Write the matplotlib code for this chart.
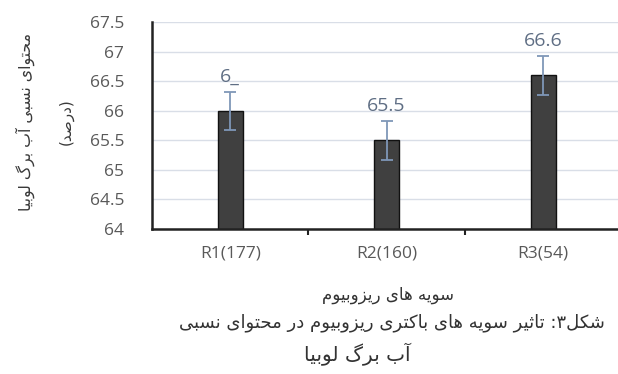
import matplotlib
matplotlib.use("Agg")
import matplotlib.pyplot as plt
import numpy as np

categories = ['R1(177)', 'R2(160)', 'R3(54)']
values = [66.0, 65.5, 66.6]
errors = [0.32, 0.33, 0.33]
value_labels = ['6_', '65.5', '66.6']
yticks = [64, 64.5, 65, 65.5, 66, 66.5, 67, 67.5]
ylabel_line1 = 'محتوای نسبی آب برگ لوبیا'
ylabel_line2 = '(درصد)'
xlabel_text = 'سویه های ریزوبیوم'
caption_line1 = 'شکل۳: تاثیر سویه های باکتری ریزوبیوم در محتوای نسبی'
caption_line2 = 'آب برگ لوبیا'

FORMS = {
    '\u0627': ('\uFE8D', '\uFE8E', None, None),
    '\u0622': ('\uFE81', '\uFE82', None, None),
    '\u0628': ('\uFE8F', '\uFE90', '\uFE91', '\uFE92'),
    '\u062A': ('\uFE95', '\uFE96', '\uFE97', '\uFE98'),
    '\u062B': ('\uFE99', '\uFE9A', '\uFE9B', '\uFE9C'),
    '\u062D': ('\uFEA1', '\uFEA2', '\uFEA3', '\uFEA4'),
    '\u062F': ('\uFEA9', '\uFEAA', None, None),
    '\u0631': ('\uFEAD', '\uFEAE', None, None),
    '\u0632': ('\uFEAF', '\uFEB0', None, None),
    '\u0633': ('\uFEB1', '\uFEB2', '\uFEB3', '\uFEB4'),
    '\u0634': ('\uFEB5', '\uFEB6', '\uFEB7', '\uFEB8'),
    '\u0635': ('\uFEB9', '\uFEBA', '\uFEBB', '\uFEBC'),
    '\u0644': ('\uFEDD', '\uFEDE', '\uFEDF', '\uFEE0'),
    '\u0645': ('\uFEE1', '\uFEE2', '\uFEE3', '\uFEE4'),
    '\u0646': ('\uFEE5', '\uFEE6', '\uFEE7', '\uFEE8'),
    '\u0647': ('\uFEE9', '\uFEEA', '\uFEEB', '\uFEEC'),
    '\u0648': ('\uFEED', '\uFEEE', None, None),
    '\u06A9': ('\uFB8E', '\uFB8F', '\uFB90', '\uFB91'),
    '\u06AF': ('\uFB92', '\uFB93', '\uFB94', '\uFB95'),
    '\u06CC': ('\uFBFC', '\uFBFD', '\uFBFE', '\uFBFF'),
}


def rtl(text):
    out = []
    n = len(text)
    for i, ch in enumerate(text):
        if ch not in FORMS:
            out.append(ch)
            continue
        prev = text[i - 1] if i > 0 else ''
        nxt = text[i + 1] if i < n - 1 else ''
        jp = prev in FORMS and FORMS[prev][2] is not None
        jn = FORMS[ch][2] is not None and nxt in FORMS
        iso, fin, ini, med = FORMS[ch]
        if jp and jn:
            out.append(med)
        elif jp:
            out.append(fin)
        elif jn:
            out.append(ini)
        else:
            out.append(iso)
    s = ''.join(reversed(out))
    s = s.translate(str.maketrans({'(': ')', ')': '('}))
    return s


fig = plt.figure(figsize=(6.18, 3.74), dpi=100)
ax = fig.add_axes([152 / 618, 1 - 229 / 374, 1 - 152 / 618, (229 - 22) / 374])

x = np.arange(len(categories))
ax.set_axisbelow(True)
ax.grid(axis='y', color='#d9dee7', linewidth=1)
ax.bar(x, values, width=0.16, color='#404040', edgecolor='#111111', linewidth=1)
ax.errorbar(x, values, yerr=errors, fmt='none', ecolor='#7f97b8', elinewidth=1.3,
            capsize=4.5, capthick=1.3)
for xi, v, e, lab in zip(x, values, errors, value_labels):
    ax.annotate(lab, (xi, v + e), xytext=(0, 4), textcoords='offset points',
                ha='center', va='bottom', fontsize=14, color='#5f6e84',
                family='Open Sans')

ax.set_ylim(64, 67.5)
ax.set_xlim(-0.5, (618 - 230) / 156.5)
ax.set_yticks(yticks)
ax.set_yticklabels(['%g' % t for t in yticks], family='Open Sans', fontsize=12.5, color='#595959')
ax.set_xticks(x)
ax.set_xticklabels(categories, family='Open Sans', fontsize=12.5, color='#595959')
ax.set_xticks([0.5, 1.5], minor=True)
ax.tick_params(axis='x', which='major', length=0, pad=12)
ax.tick_params(axis='x', which='minor', length=4, width=1.5, color='#222222', direction='out')
ax.tick_params(axis='y', length=0, pad=20)
for s in ['top', 'right']:
    ax.spines[s].set_visible(False)
ax.spines['left'].set_linewidth(1.8)
ax.spines['left'].set_color('#222222')
ax.spines['bottom'].set_linewidth(1.8)
ax.spines['bottom'].set_color('#222222')

fam = ['DejaVu Sans']
fig.text(25 / 618, 1 - 122 / 374, rtl(ylabel_line1), rotation=90, ha='center', va='center',
         fontsize=11.3, color='#3a3a3a', family=fam)
fig.text(66 / 618, 1 - 122 / 374, rtl(ylabel_line2), rotation=90, ha='center', va='center',
         fontsize=11, color='#3a3a3a', family=fam)
fig.text(388 / 618, 1 - 295 / 374, rtl(xlabel_text), ha='center', va='center',
         fontsize=12, color='#333333', family=fam)
fig.text(392 / 618, 1 - 323 / 374, rtl(caption_line1), ha='center', va='center',
         fontsize=13, color='#333333', family=fam)
fig.text(357 / 618, 1 - 354 / 374, rtl(caption_line2), ha='center', va='center',
         fontsize=14.5, color='#333333', family=fam)

fig.savefig('out.png', dpi=100)
